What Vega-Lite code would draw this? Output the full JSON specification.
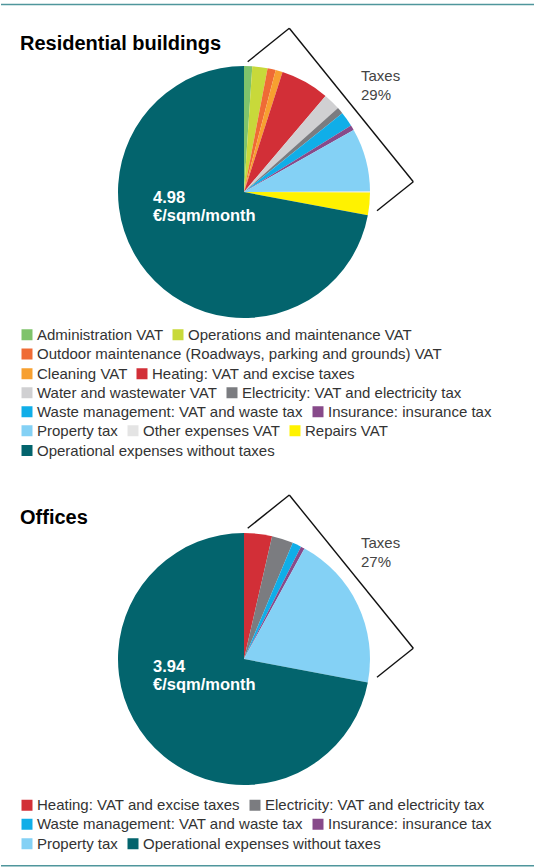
{
  "$schema": "https://vega.github.io/schema/vega-lite/v6.json",
  "padding": 0,
  "spacing": 0,
  "background": "white",
  "datasets": {
    "residential": [
      {"order": 1, "category": "Administration VAT", "share": 1.05},
      {"order": 2, "category": "Operations and maintenance VAT", "share": 1.95},
      {"order": 3, "category": "Outdoor maintenance (Roadways, parking and grounds) VAT", "share": 1.05},
      {"order": 4, "category": "Cleaning VAT", "share": 0.9},
      {"order": 5, "category": "Heating: VAT and excise taxes", "share": 6.25},
      {"order": 6, "category": "Water and wastewater VAT", "share": 2.2},
      {"order": 7, "category": "Electricity: VAT and electricity tax", "share": 0.85},
      {"order": 8, "category": "Waste management: VAT and waste tax", "share": 1.9},
      {"order": 9, "category": "Insurance: insurance tax", "share": 0.65},
      {"order": 10, "category": "Property tax", "share": 8.15},
      {"order": 11, "category": "Other expenses VAT", "share": 0.1},
      {"order": 12, "category": "Repairs VAT", "share": 2.9},
      {"order": 13, "category": "Operational expenses without taxes", "share": 72.05}
    ],
    "offices": [
      {"order": 1, "category": "Heating: VAT and excise taxes", "share": 3.58},
      {"order": 2, "category": "Electricity: VAT and electricity tax", "share": 2.75},
      {"order": 3, "category": "Waste management: VAT and waste tax", "share": 1.14},
      {"order": 4, "category": "Insurance: insurance tax", "share": 0.5},
      {"order": 5, "category": "Property tax", "share": 20.0},
      {"order": 6, "category": "Operational expenses without taxes", "share": 72.03}
    ]
  },
  "vconcat": [
    {
      "width": 534,
      "height": 467,
      "resolve": {"scale": {"color": "independent"}, "legend": {"color": "independent"}},
      "layer": [
        {
          "data": {"name": "residential"},
          "transform": [
            {"stack": "share", "groupby": [], "sort": [{"field": "order", "order": "ascending"}], "as": ["start", "end"]},
            {"filter": {"field": "category", "oneOf": ["Administration VAT", "Operations and maintenance VAT"]}}
          ],
          "mark": {"type": "arc", "radius": 126},
          "encoding": {
            "x": {"datum": 0, "type": "quantitative", "scale": {"domain": [-243, 291], "nice": false, "zero": false}, "axis": null},
            "y": {"datum": 0, "type": "quantitative", "scale": {"domain": [-275, 192], "nice": false, "zero": false}, "axis": null},
            "theta": {"field": "start", "type": "quantitative", "stack": null, "scale": {"domain": [0, 100]}},
            "theta2": {"field": "end"},
            "color": {"field": "category", "type": "nominal", "scale": {"domain": ["Administration VAT", "Operations and maintenance VAT"], "range": ["#7fc36b", "#c8d93a"]}, "legend": {"title": null, "legendX": 18.5, "legendY": 327}}
          }
        },
        {
          "data": {"name": "residential"},
          "transform": [
            {"stack": "share", "groupby": [], "sort": [{"field": "order", "order": "ascending"}], "as": ["start", "end"]},
            {"filter": {"field": "category", "oneOf": ["Outdoor maintenance (Roadways, parking and grounds) VAT"]}}
          ],
          "mark": {"type": "arc", "radius": 126},
          "encoding": {
            "x": {"datum": 0, "type": "quantitative", "scale": {"domain": [-243, 291], "nice": false, "zero": false}, "axis": null},
            "y": {"datum": 0, "type": "quantitative", "scale": {"domain": [-275, 192], "nice": false, "zero": false}, "axis": null},
            "theta": {"field": "start", "type": "quantitative", "stack": null, "scale": {"domain": [0, 100]}},
            "theta2": {"field": "end"},
            "color": {"field": "category", "type": "nominal", "scale": {"domain": ["Outdoor maintenance (Roadways, parking and grounds) VAT"], "range": ["#ef6b35"]}, "legend": {"title": null, "legendX": 18.5, "legendY": 346.5}}
          }
        },
        {
          "data": {"name": "residential"},
          "transform": [
            {"stack": "share", "groupby": [], "sort": [{"field": "order", "order": "ascending"}], "as": ["start", "end"]},
            {"filter": {"field": "category", "oneOf": ["Cleaning VAT", "Heating: VAT and excise taxes"]}}
          ],
          "mark": {"type": "arc", "radius": 126},
          "encoding": {
            "x": {"datum": 0, "type": "quantitative", "scale": {"domain": [-243, 291], "nice": false, "zero": false}, "axis": null},
            "y": {"datum": 0, "type": "quantitative", "scale": {"domain": [-275, 192], "nice": false, "zero": false}, "axis": null},
            "theta": {"field": "start", "type": "quantitative", "stack": null, "scale": {"domain": [0, 100]}},
            "theta2": {"field": "end"},
            "color": {"field": "category", "type": "nominal", "scale": {"domain": ["Cleaning VAT", "Heating: VAT and excise taxes"], "range": ["#f7a030", "#d22f37"]}, "legend": {"title": null, "legendX": 18.5, "legendY": 366}}
          }
        },
        {
          "data": {"name": "residential"},
          "transform": [
            {"stack": "share", "groupby": [], "sort": [{"field": "order", "order": "ascending"}], "as": ["start", "end"]},
            {"filter": {"field": "category", "oneOf": ["Water and wastewater VAT", "Electricity: VAT and electricity tax"]}}
          ],
          "mark": {"type": "arc", "radius": 126},
          "encoding": {
            "x": {"datum": 0, "type": "quantitative", "scale": {"domain": [-243, 291], "nice": false, "zero": false}, "axis": null},
            "y": {"datum": 0, "type": "quantitative", "scale": {"domain": [-275, 192], "nice": false, "zero": false}, "axis": null},
            "theta": {"field": "start", "type": "quantitative", "stack": null, "scale": {"domain": [0, 100]}},
            "theta2": {"field": "end"},
            "color": {"field": "category", "type": "nominal", "scale": {"domain": ["Water and wastewater VAT", "Electricity: VAT and electricity tax"], "range": ["#d0d0d2", "#7b7c80"]}, "legend": {"title": null, "legendX": 18.5, "legendY": 385}}
          }
        },
        {
          "data": {"name": "residential"},
          "transform": [
            {"stack": "share", "groupby": [], "sort": [{"field": "order", "order": "ascending"}], "as": ["start", "end"]},
            {"filter": {"field": "category", "oneOf": ["Waste management: VAT and waste tax", "Insurance: insurance tax"]}}
          ],
          "mark": {"type": "arc", "radius": 126},
          "encoding": {
            "x": {"datum": 0, "type": "quantitative", "scale": {"domain": [-243, 291], "nice": false, "zero": false}, "axis": null},
            "y": {"datum": 0, "type": "quantitative", "scale": {"domain": [-275, 192], "nice": false, "zero": false}, "axis": null},
            "theta": {"field": "start", "type": "quantitative", "stack": null, "scale": {"domain": [0, 100]}},
            "theta2": {"field": "end"},
            "color": {"field": "category", "type": "nominal", "scale": {"domain": ["Waste management: VAT and waste tax", "Insurance: insurance tax"], "range": ["#10aee8", "#874a8a"]}, "legend": {"title": null, "legendX": 18.5, "legendY": 404}}
          }
        },
        {
          "data": {"name": "residential"},
          "transform": [
            {"stack": "share", "groupby": [], "sort": [{"field": "order", "order": "ascending"}], "as": ["start", "end"]},
            {"filter": {"field": "category", "oneOf": ["Property tax", "Other expenses VAT", "Repairs VAT"]}}
          ],
          "mark": {"type": "arc", "radius": 126},
          "encoding": {
            "x": {"datum": 0, "type": "quantitative", "scale": {"domain": [-243, 291], "nice": false, "zero": false}, "axis": null},
            "y": {"datum": 0, "type": "quantitative", "scale": {"domain": [-275, 192], "nice": false, "zero": false}, "axis": null},
            "theta": {"field": "start", "type": "quantitative", "stack": null, "scale": {"domain": [0, 100]}},
            "theta2": {"field": "end"},
            "color": {"field": "category", "type": "nominal", "scale": {"domain": ["Property tax", "Other expenses VAT", "Repairs VAT"], "range": ["#84d1f5", "#e4e4e4", "#fff200"]}, "legend": {"title": null, "legendX": 18.5, "legendY": 423}}
          }
        },
        {
          "data": {"name": "residential"},
          "transform": [
            {"stack": "share", "groupby": [], "sort": [{"field": "order", "order": "ascending"}], "as": ["start", "end"]},
            {"filter": {"field": "category", "oneOf": ["Operational expenses without taxes"]}}
          ],
          "mark": {"type": "arc", "radius": 126},
          "encoding": {
            "x": {"datum": 0, "type": "quantitative", "scale": {"domain": [-243, 291], "nice": false, "zero": false}, "axis": null},
            "y": {"datum": 0, "type": "quantitative", "scale": {"domain": [-275, 192], "nice": false, "zero": false}, "axis": null},
            "theta": {"field": "start", "type": "quantitative", "stack": null, "scale": {"domain": [0, 100]}},
            "theta2": {"field": "end"},
            "color": {"field": "category", "type": "nominal", "scale": {"domain": ["Operational expenses without taxes"], "range": ["#03646d"]}, "legend": {"title": null, "legendX": 18.5, "legendY": 443}}
          }
        },
        {
          "data": {"values": [{"label": "Residential buildings"}]},
          "mark": {"type": "text", "align": "left", "baseline": "alphabetic", "font": "Liberation Sans", "fontSize": 20, "fontWeight": "bold", "color": "#000000"},
          "encoding": {
            "x": {"datum": -224, "type": "quantitative", "scale": {"domain": [-243, 291], "nice": false, "zero": false}, "axis": null},
            "y": {"datum": 142, "type": "quantitative", "scale": {"domain": [-275, 192], "nice": false, "zero": false}, "axis": null},
            "text": {"field": "label"}
          }
        },
        {
          "data": {"values": [{"label": ["Taxes", "29%"]}]},
          "mark": {"type": "text", "align": "left", "baseline": "alphabetic", "font": "Liberation Sans", "fontSize": 15, "lineHeight": 19, "color": "#444444"},
          "encoding": {
            "x": {"datum": 117, "type": "quantitative", "scale": {"domain": [-243, 291], "nice": false, "zero": false}, "axis": null},
            "y": {"datum": 111, "type": "quantitative", "scale": {"domain": [-275, 192], "nice": false, "zero": false}, "axis": null},
            "text": {"field": "label"}
          }
        },
        {
          "data": {"values": [{"label": ["4.98", "€/sqm/month"]}]},
          "mark": {"type": "text", "align": "left", "baseline": "alphabetic", "font": "Liberation Sans", "fontSize": 16.5, "fontWeight": "bold", "lineHeight": 18, "color": "#ffffff"},
          "encoding": {
            "x": {"datum": -91, "type": "quantitative", "scale": {"domain": [-243, 291], "nice": false, "zero": false}, "axis": null},
            "y": {"datum": -10.7, "type": "quantitative", "scale": {"domain": [-275, 192], "nice": false, "zero": false}, "axis": null},
            "text": {"field": "label"}
          }
        },
        {
          "data": {"values": [{"x": 3.7, "y": 130.3, "x2": 45.3, "y2": 163.7}, {"x": 45.3, "y": 163.7, "x2": 169.3, "y2": 10.3}, {"x": 169.3, "y": 10.3, "x2": 133, "y2": -18.7}]},
          "mark": {"type": "rule", "stroke": "#111111", "strokeWidth": 1.4},
          "encoding": {
            "x": {"field": "x", "type": "quantitative", "scale": {"domain": [-243, 291], "nice": false, "zero": false}, "axis": null},
            "y": {"field": "y", "type": "quantitative", "scale": {"domain": [-275, 192], "nice": false, "zero": false}, "axis": null},
            "x2": {"field": "x2"},
            "y2": {"field": "y2"}
          }
        },
        {
          "data": {"values": [{}]},
          "mark": {"type": "rule", "stroke": "#4f969c", "strokeWidth": 1.5},
          "encoding": {
            "x": {"datum": -243, "type": "quantitative", "scale": {"domain": [-243, 291], "nice": false, "zero": false}, "axis": null},
            "x2": {"datum": 291},
            "y": {"datum": 187.5, "type": "quantitative", "scale": {"domain": [-275, 192], "nice": false, "zero": false}, "axis": null}
          }
        }
      ]
    },
    {
      "width": 534,
      "height": 400,
      "resolve": {"scale": {"color": "independent"}, "legend": {"color": "independent"}},
      "layer": [
        {
          "data": {"name": "offices"},
          "transform": [
            {"stack": "share", "groupby": [], "sort": [{"field": "order", "order": "ascending"}], "as": ["start", "end"]},
            {"filter": {"field": "category", "oneOf": ["Heating: VAT and excise taxes", "Electricity: VAT and electricity tax"]}}
          ],
          "mark": {"type": "arc", "radius": 126},
          "encoding": {
            "x": {"datum": 0, "type": "quantitative", "scale": {"domain": [-243, 291], "nice": false, "zero": false}, "axis": null},
            "y": {"datum": 0, "type": "quantitative", "scale": {"domain": [-208, 192], "nice": false, "zero": false}, "axis": null},
            "theta": {"field": "start", "type": "quantitative", "stack": null, "scale": {"domain": [0, 100]}},
            "theta2": {"field": "end"},
            "color": {"field": "category", "type": "nominal", "scale": {"domain": ["Heating: VAT and excise taxes", "Electricity: VAT and electricity tax"], "range": ["#d22f37", "#7b7c80"]}, "legend": {"title": null, "legendX": 18.5, "legendY": 330.5}}
          }
        },
        {
          "data": {"name": "offices"},
          "transform": [
            {"stack": "share", "groupby": [], "sort": [{"field": "order", "order": "ascending"}], "as": ["start", "end"]},
            {"filter": {"field": "category", "oneOf": ["Waste management: VAT and waste tax", "Insurance: insurance tax"]}}
          ],
          "mark": {"type": "arc", "radius": 126},
          "encoding": {
            "x": {"datum": 0, "type": "quantitative", "scale": {"domain": [-243, 291], "nice": false, "zero": false}, "axis": null},
            "y": {"datum": 0, "type": "quantitative", "scale": {"domain": [-208, 192], "nice": false, "zero": false}, "axis": null},
            "theta": {"field": "start", "type": "quantitative", "stack": null, "scale": {"domain": [0, 100]}},
            "theta2": {"field": "end"},
            "color": {"field": "category", "type": "nominal", "scale": {"domain": ["Waste management: VAT and waste tax", "Insurance: insurance tax"], "range": ["#10aee8", "#874a8a"]}, "legend": {"title": null, "legendX": 18.5, "legendY": 349.5}}
          }
        },
        {
          "data": {"name": "offices"},
          "transform": [
            {"stack": "share", "groupby": [], "sort": [{"field": "order", "order": "ascending"}], "as": ["start", "end"]},
            {"filter": {"field": "category", "oneOf": ["Property tax", "Operational expenses without taxes"]}}
          ],
          "mark": {"type": "arc", "radius": 126},
          "encoding": {
            "x": {"datum": 0, "type": "quantitative", "scale": {"domain": [-243, 291], "nice": false, "zero": false}, "axis": null},
            "y": {"datum": 0, "type": "quantitative", "scale": {"domain": [-208, 192], "nice": false, "zero": false}, "axis": null},
            "theta": {"field": "start", "type": "quantitative", "stack": null, "scale": {"domain": [0, 100]}},
            "theta2": {"field": "end"},
            "color": {"field": "category", "type": "nominal", "scale": {"domain": ["Property tax", "Operational expenses without taxes"], "range": ["#84d1f5", "#03646d"]}, "legend": {"title": null, "legendX": 18.5, "legendY": 369}}
          }
        },
        {
          "data": {"values": [{"label": "Offices"}]},
          "mark": {"type": "text", "align": "left", "baseline": "alphabetic", "font": "Liberation Sans", "fontSize": 20, "fontWeight": "bold", "color": "#000000"},
          "encoding": {
            "x": {"datum": -224, "type": "quantitative", "scale": {"domain": [-243, 291], "nice": false, "zero": false}, "axis": null},
            "y": {"datum": 135, "type": "quantitative", "scale": {"domain": [-208, 192], "nice": false, "zero": false}, "axis": null},
            "text": {"field": "label"}
          }
        },
        {
          "data": {"values": [{"label": ["Taxes", "27%"]}]},
          "mark": {"type": "text", "align": "left", "baseline": "alphabetic", "font": "Liberation Sans", "fontSize": 15, "lineHeight": 19, "color": "#444444"},
          "encoding": {
            "x": {"datum": 117, "type": "quantitative", "scale": {"domain": [-243, 291], "nice": false, "zero": false}, "axis": null},
            "y": {"datum": 111.5, "type": "quantitative", "scale": {"domain": [-208, 192], "nice": false, "zero": false}, "axis": null},
            "text": {"field": "label"}
          }
        },
        {
          "data": {"values": [{"label": ["3.94", "€/sqm/month"]}]},
          "mark": {"type": "text", "align": "left", "baseline": "alphabetic", "font": "Liberation Sans", "fontSize": 16.5, "fontWeight": "bold", "lineHeight": 18, "color": "#ffffff"},
          "encoding": {
            "x": {"datum": -91, "type": "quantitative", "scale": {"domain": [-243, 291], "nice": false, "zero": false}, "axis": null},
            "y": {"datum": -12.7, "type": "quantitative", "scale": {"domain": [-208, 192], "nice": false, "zero": false}, "axis": null},
            "text": {"field": "label"}
          }
        },
        {
          "data": {"values": [{"x": 3.7, "y": 130.7, "x2": 45.3, "y2": 164}, {"x": 45.3, "y": 164, "x2": 169.3, "y2": 10.7}, {"x": 169.3, "y": 10.7, "x2": 133, "y2": -18.3}]},
          "mark": {"type": "rule", "stroke": "#111111", "strokeWidth": 1.4},
          "encoding": {
            "x": {"field": "x", "type": "quantitative", "scale": {"domain": [-243, 291], "nice": false, "zero": false}, "axis": null},
            "y": {"field": "y", "type": "quantitative", "scale": {"domain": [-208, 192], "nice": false, "zero": false}, "axis": null},
            "x2": {"field": "x2"},
            "y2": {"field": "y2"}
          }
        },
        {
          "data": {"values": [{}]},
          "mark": {"type": "rule", "stroke": "#4f969c", "strokeWidth": 1.5},
          "encoding": {
            "x": {"datum": -243, "type": "quantitative", "scale": {"domain": [-243, 291], "nice": false, "zero": false}, "axis": null},
            "x2": {"datum": 291},
            "y": {"datum": -206.8, "type": "quantitative", "scale": {"domain": [-208, 192], "nice": false, "zero": false}, "axis": null}
          }
        }
      ]
    }
  ],
  "config": {
    "view": {"stroke": null},
    "legend": {
      "orient": "none",
      "direction": "horizontal",
      "symbolType": "square",
      "symbolSize": 121,
      "symbolStrokeWidth": 0,
      "labelFont": "Liberation Sans",
      "labelFontSize": 15,
      "labelColor": "#333333",
      "labelOffset": 2.5,
      "labelLimit": 600,
      "columnPadding": 7,
      "padding": 0
    }
  }
}
